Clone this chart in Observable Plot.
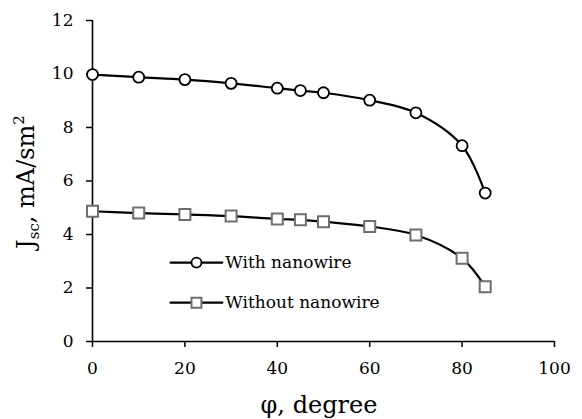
<!DOCTYPE html>
<html><head><meta charset="utf-8">
<script src="https://cdn.jsdelivr.net/npm/d3@7"></script>
<script src="https://cdn.jsdelivr.net/npm/@observablehq/plot@0.6"></script>
<style>
body{margin:0;background:#fff;}
#chart svg{font-family:"DejaVu Serif",serif;}
</style></head>
<body><div id="chart"></div>
<script>
const angles = [0, 10, 20, 30, 40, 45, 50, 60, 70, 80, 85];
const withNanowire = [9.98, 9.88, 9.79, 9.65, 9.47, 9.38, 9.30, 9.02, 8.55, 7.32, 5.55];
const withoutNanowire = [4.87, 4.80, 4.75, 4.69, 4.58, 4.55, 4.48, 4.30, 3.98, 3.11, 2.05];
const seriesNames = ["With nanowire", "Without nanowire"];
const xTicks = [0, 20, 40, 60, 80, 100];
const yTicks = [0, 2, 4, 6, 8, 10, 12];
// legend placement in data units
const legendX = [16.9, 28.1];
const legendRowsY = [2.95, 1.45];

const withData = angles.map((a, i) => ({x: a, y: withNanowire[i]}));
const withoutData = angles.map((a, i) => ({x: a, y: withoutNanowire[i]}));
const legendLines = legendRowsY.flatMap((y, i) => legendX.map(x => ({x, y, s: i})));
const legendPts = legendRowsY.map((y, i) => ({x: (legendX[0] + legendX[1]) / 2, y, s: i, name: seriesNames[i]}));

const plot = Plot.plot({
  width: 582, height: 419,
  marginLeft: 92, marginRight: 28, marginTop: 20, marginBottom: 78,
  style: {fontFamily: "DejaVu Serif, serif", fontSize: "17px", color: "#000", background: "#fff"},
  x: {domain: [0, 100], ticks: xTicks, label: null},
  y: {domain: [0, 12], ticks: yTicks, label: null},
  marks: [
    Plot.axisX({ticks: xTicks, tickSize: 6, tickPadding: 14, label: null, fontSize: 17, strokeWidth: 1.5}),
    Plot.axisY({ticks: yTicks, tickSize: 6, tickPadding: 13, label: null, fontSize: 17, strokeWidth: 1.5}),
    Plot.ruleY([0], {stroke: "#000", strokeWidth: 1.6}),
    Plot.ruleX([0], {stroke: "#000", strokeWidth: 1.6}),
    Plot.line(withData, {x: "x", y: "y", curve: "catmull-rom", stroke: "#000", strokeWidth: 2.2}),
    Plot.line(withoutData, {x: "x", y: "y", curve: "catmull-rom", stroke: "#000", strokeWidth: 2.2}),
    Plot.dot(withData, {x: "x", y: "y", r: 5.5, fill: "#fff", stroke: "#000", strokeWidth: 1.8}),
    Plot.dot(withoutData, {x: "x", y: "y", symbol: "square", r: 6.2, fill: "#fff", stroke: "#6e6e6e", strokeWidth: 2}),
    Plot.line(legendLines, {x: "x", y: "y", z: "s", stroke: "#000", strokeWidth: 2.2}),
    Plot.dot(legendPts.filter(d => d.s === 0), {x: "x", y: "y", r: 5, fill: "#fff", stroke: "#000", strokeWidth: 1.8}),
    Plot.dot(legendPts.filter(d => d.s === 1), {x: "x", y: "y", symbol: "square", r: 5.6, fill: "#fff", stroke: "#6e6e6e", strokeWidth: 2}),
    Plot.text(legendPts, {x: legendX[1], y: "y", text: "name", textAnchor: "start", dx: 3, fontSize: 17, fill: "#000"})
  ]
});
document.getElementById("chart").appendChild(plot);

const svg = d3.select(plot);
// x axis title
svg.append("text")
  .attr("x", 319).attr("y", 413)
  .attr("text-anchor", "middle")
  .attr("font-size", 24).attr("fill", "#000")
  .text("φ, degree");
// y axis title with subscript / superscript
const yt = svg.append("text")
  .attr("transform", "translate(34,182) rotate(-90)")
  .attr("text-anchor", "middle")
  .attr("font-size", 24).attr("fill", "#000");
yt.append("tspan").text("J");
yt.append("tspan").attr("font-size", 15).attr("dy", 5).text("sc");
yt.append("tspan").attr("dy", -5).text(", mA/sm");
yt.append("tspan").attr("font-size", 15).attr("dy", -10).text("2");
</script>
</body></html>
